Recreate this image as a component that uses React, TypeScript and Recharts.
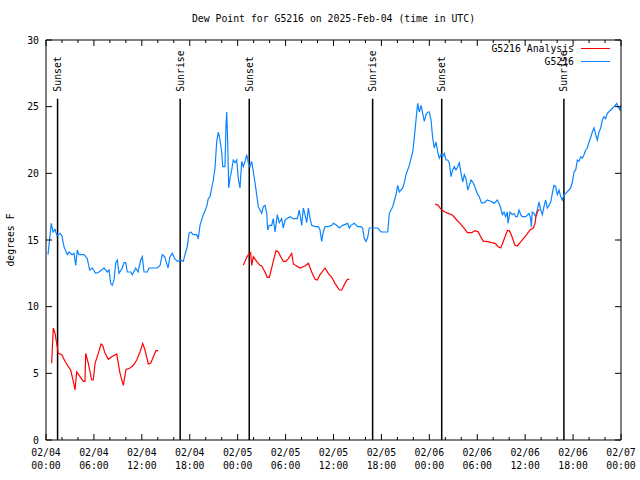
import { LineChart, Line, XAxis, YAxis, ReferenceLine } from 'recharts'

// hours since 2025-02-04 00:00 UTC, dew point in F
const stationObs: [number, number][] = [
  [0.25, 13.9], [0.45, 15.0], [0.66, 16.25], [0.88, 15.6], [1.13, 15.8], [1.38, 15.3], [1.75, 15.5],
  [2.0, 15.3], [2.25, 14.5], [2.67, 13.9], [2.88, 14.1], [3.26, 13.9], [3.51, 14.0], [3.72, 13.1],
  [3.92, 14.25], [4.13, 13.9], [4.76, 13.9], [5.17, 13.6], [5.47, 12.75], [5.8, 12.9], [6.22, 12.5],
  [6.64, 12.6], [7.26, 12.9], [7.68, 12.6], [7.89, 12.75], [8.1, 11.75], [8.3, 11.6], [8.52, 12.0],
  [8.73, 13.3], [8.93, 13.5], [9.14, 12.5], [9.55, 12.9], [9.77, 13.3], [9.98, 13.3], [10.18, 12.6],
  [10.61, 12.6], [10.81, 12.4], [11.23, 12.9], [11.52, 12.6], [11.86, 13.5], [12.06, 13.75], [12.27, 12.6],
  [12.68, 12.6], [12.9, 12.9], [13.31, 12.9], [13.94, 12.9], [14.28, 13.1], [14.56, 13.9], [14.86, 13.75],
  [15.19, 13.1], [15.28, 12.9], [15.53, 13.75], [15.82, 14.0], [16.12, 13.6], [16.44, 13.4], [16.87, 13.5],
  [17.19, 13.4], [17.49, 14.1], [17.69, 14.5], [17.91, 15.5], [18.12, 15.6], [18.44, 15.4], [18.87, 15.4],
  [19.07, 15.1], [19.28, 16.1], [19.7, 16.9], [20.12, 17.5], [20.32, 18.1], [20.54, 18.25], [20.75, 18.9],
  [20.95, 19.5], [21.16, 20.4], [21.38, 22.4], [21.58, 23.1], [21.79, 22.5], [22.0, 21.6], [22.13, 20.5],
  [22.41, 20.5], [22.54, 23.6], [22.63, 24.6], [22.75, 22.3], [22.88, 18.9], [23.04, 19.6], [23.25, 20.25],
  [23.45, 21.0], [23.67, 20.8], [23.88, 21.0], [24.08, 19.6], [24.29, 18.9], [24.51, 20.9], [24.71, 20.5],
  [24.92, 20.9], [25.13, 21.4], [25.33, 20.8], [25.54, 20.5], [25.75, 20.9], [25.96, 20.1], [26.17, 19.3],
  [26.38, 18.4], [26.58, 17.5], [26.8, 17.25], [27.01, 17.0], [27.21, 17.5], [27.42, 17.6], [27.64, 17.0],
  [27.76, 15.75], [27.96, 16.1], [28.26, 16.1], [28.46, 16.6], [28.68, 15.6], [28.96, 16.9], [29.21, 16.3],
  [29.51, 16.6], [29.71, 15.9], [29.93, 16.5], [30.14, 16.6], [30.55, 16.75], [30.97, 16.6], [31.47, 16.6],
  [31.72, 17.25], [32.02, 16.1], [32.22, 17.4], [32.43, 16.9], [32.65, 16.3], [32.85, 17.4], [33.06, 16.6],
  [33.27, 16.1], [33.68, 16.0], [34.1, 16.0], [34.31, 15.75], [34.52, 14.9], [34.72, 15.6], [34.94, 16.0],
  [35.35, 16.0], [35.78, 16.1], [35.98, 16.25], [36.4, 16.1], [36.73, 15.9], [37.15, 16.1], [37.78, 16.25],
  [37.98, 15.9], [38.19, 16.1], [38.6, 16.25], [39.03, 16.0], [39.44, 16.0], [39.65, 15.9], [39.86, 15.1],
  [40.07, 14.9], [40.28, 15.2], [40.48, 15.9], [40.91, 15.9], [41.54, 15.9], [41.95, 15.6], [42.36, 15.6],
  [42.79, 15.6], [42.99, 17.0], [43.41, 17.5], [43.83, 18.4], [44.04, 19.1], [44.24, 18.6], [44.67, 18.9],
  [44.87, 19.3], [45.08, 19.9], [45.49, 20.6], [45.92, 21.6], [46.12, 22.7], [46.33, 24.0], [46.54, 25.25],
  [46.74, 24.6], [46.96, 25.1], [47.17, 24.5], [47.37, 23.9], [47.58, 24.4], [47.8, 24.6], [48.0, 24.6],
  [48.21, 24.0], [48.42, 22.65], [48.62, 21.9], [48.84, 22.35], [49.05, 21.6], [49.25, 21.15], [49.46, 21.4],
  [49.67, 21.25], [49.88, 21.5], [50.09, 21.0], [50.3, 21.0], [50.5, 20.8], [50.71, 19.75], [50.92, 20.25],
  [51.13, 20.5], [51.34, 20.25], [51.55, 20.5], [51.75, 20.8], [51.97, 20.0], [52.18, 19.35], [52.38, 19.9],
  [52.59, 19.6], [52.81, 18.75], [53.0, 19.1], [53.22, 19.5], [53.43, 19.35], [53.63, 19.1], [53.84, 18.75],
  [54.06, 18.4], [54.26, 18.25], [54.47, 17.85], [54.68, 17.75], [55.01, 17.85], [55.26, 18.0], [55.88, 17.85],
  [56.1, 17.75], [56.51, 18.0], [56.72, 17.75], [56.94, 17.4], [57.14, 16.9], [57.35, 17.1], [57.56, 16.75],
  [57.76, 17.1], [57.85, 16.25], [58.1, 17.1], [58.39, 16.9], [58.6, 17.0], [58.82, 16.75], [59.02, 16.75],
  [59.23, 17.25], [59.44, 16.9], [59.64, 16.75], [60.07, 16.75], [60.48, 17.0], [60.69, 16.6], [60.77, 16.0],
  [60.89, 17.1], [61.1, 17.0], [61.32, 16.75], [61.52, 17.25], [61.73, 17.85], [61.95, 17.25], [62.15, 16.9],
  [62.36, 17.5], [62.57, 18.0], [62.77, 17.4], [62.99, 17.6], [63.2, 17.85], [63.4, 18.5], [63.61, 19.1],
  [63.82, 19.0], [64.03, 18.4], [64.24, 18.75], [64.45, 18.25], [64.65, 18.0], [64.86, 18.4], [65.08, 18.5],
  [65.49, 18.75], [65.7, 18.9], [65.91, 19.35], [66.12, 20.1], [66.33, 20.25], [66.53, 21.0], [66.74, 20.9],
  [66.95, 21.25], [67.16, 21.15], [67.37, 21.4], [67.58, 21.75], [67.78, 21.9], [67.99, 22.35], [68.21, 22.7],
  [68.41, 23.1], [68.62, 23.4], [68.83, 22.9], [69.03, 22.5], [69.25, 23.1], [69.46, 23.4], [69.66, 24.0],
  [69.87, 24.25], [70.08, 24.1], [70.29, 24.5], [70.71, 24.75], [71.13, 25.0], [71.46, 25.25], [71.62, 25.0],
  [71.87, 24.75], [71.96, 25.1],
]

// analysis runs, three separate pieces
const analysisDay1: [number, number][] = [
  [0.71, 5.75], [0.91, 8.4], [1.13, 8.0], [1.34, 7.25], [1.54, 6.5], [1.97, 6.4], [2.38, 5.9], [2.79, 5.5],
  [3.09, 5.25], [3.42, 4.4], [3.63, 3.75], [3.84, 5.1], [4.26, 4.75], [4.67, 4.4], [4.88, 4.4], [4.97, 6.5],
  [5.3, 5.75], [5.72, 4.5], [5.92, 4.5], [6.14, 5.75], [6.55, 6.5], [6.89, 7.2], [7.1, 7.1], [7.39, 6.5],
  [7.8, 6.05], [8.23, 6.25], [8.85, 6.45], [9.27, 5.0], [9.68, 4.1], [10.02, 5.3], [10.52, 5.4], [10.93, 5.6],
  [11.36, 6.0], [11.77, 6.6], [12.11, 7.25], [12.4, 6.75], [12.81, 5.7], [13.11, 5.75], [13.44, 6.25],
  [13.77, 6.7], [14.06, 6.7],
]
const analysisDay2: [number, number][] = [
  [24.71, 13.1], [24.92, 13.4], [25.13, 13.7], [25.33, 13.9], [25.63, 14.05], [25.76, 13.1], [25.96, 13.75],
  [26.38, 13.4], [26.8, 13.1], [27.01, 13.05], [27.42, 12.6], [27.71, 12.2], [27.96, 12.2], [28.46, 13.4],
  [28.8, 14.2], [29.09, 14.1], [29.39, 13.75], [29.71, 13.4], [30.05, 13.4], [30.34, 13.6], [30.77, 14.0],
  [30.97, 13.2], [31.39, 13.05], [31.81, 12.9], [32.43, 13.05], [32.85, 13.25], [33.27, 12.6], [33.68, 12.05],
  [33.97, 12.0], [34.31, 12.4], [34.94, 12.9], [35.35, 12.5], [35.78, 12.2], [36.19, 11.75], [36.73, 11.25],
  [37.03, 11.25], [37.44, 11.75], [37.73, 12.05], [37.98, 12.05],
]
const analysisDay3: [number, number][] = [
  [48.71, 17.7], [49.12, 17.6], [49.34, 17.4], [49.55, 17.25], [49.96, 17.1], [50.38, 17.0], [50.8, 16.9],
  [51.0, 16.8], [51.43, 16.5], [51.75, 16.3], [52.05, 16.1], [52.47, 15.8], [52.76, 15.55], [53.31, 15.55],
  [53.72, 15.7], [54.14, 15.6], [54.43, 15.25], [54.76, 14.9], [55.18, 14.9], [55.81, 14.8], [56.22, 14.75],
  [56.64, 14.5], [56.94, 14.4], [57.14, 14.7], [57.48, 15.25], [57.77, 15.7], [58.02, 15.7], [58.32, 15.3],
  [58.73, 14.6], [59.02, 14.55], [59.36, 14.8], [59.77, 15.1], [60.19, 15.4], [60.61, 15.75], [61.02, 15.9],
  [61.23, 16.25], [61.36, 16.8], [61.52, 17.1], [61.77, 17.3],
]

const sunEvents = [
  { t: 1.45, name: 'Sunset' },
  { t: 16.8, name: 'Sunrise' },
  { t: 25.45, name: 'Sunset' },
  { t: 40.9, name: 'Sunrise' },
  { t: 49.55, name: 'Sunset' },
  { t: 64.85, name: 'Sunrise' },
]
const sunLineTop = 25.6

const xTicks = [0, 2, 4, 6, 8, 10, 12, 14, 16, 18, 20, 22, 24, 26, 28, 30, 32, 34, 36, 38, 40, 42, 44, 46,
  48, 50, 52, 54, 56, 58, 60, 62, 64, 66, 68, 70, 72]
const yTicks = [0, 5, 10, 15, 20, 25, 30]

const legendItems = [
  { name: 'G5216 Analysis', color: '#ff0000' },
  { name: 'G5216', color: '#0a84ff' },
]

const mono = '"DejaVu Sans Mono", monospace'
const toRows = (pts: [number, number][]) => pts.map(([t, v]) => ({ t, v }))

const pad = (n: number) => (n < 10 ? '0' + n : '' + n)
const dayLabel = (h: number) => '02/' + pad(4 + Math.floor(h / 24))
const timeLabel = (h: number) => pad(h % 24) + ':00'

const BottomTick = (props: any) => {
  const { x, y, payload } = props
  const h = payload.value
  const major = h % 6 === 0
  return (
    <g>
      <line x1={x} y1={y} x2={x} y2={y - (major ? 6 : 3)} stroke="#000" />
      {major && (
        <text x={x} y={y} textAnchor="middle" fontFamily={mono} fontSize={9.8} fill="#000">
          <tspan x={x} dy={16}>{dayLabel(h)}</tspan>
          <tspan x={x} dy={13}>{timeLabel(h)}</tspan>
        </text>
      )}
    </g>
  )
}

const TopTick = (props: any) => {
  const { x, y, payload } = props
  const major = payload.value % 6 === 0
  return <line x1={x} y1={y} x2={x} y2={y + (major ? 6 : 3)} stroke="#000" />
}

const LeftTick = (props: any) => {
  const { x, y, payload } = props
  return (
    <g>
      <line x1={x} y1={y} x2={x + 6} y2={y} stroke="#000" />
      <text x={x - 7} y={y} textAnchor="end" dominantBaseline="central" fontFamily={mono} fontSize={9.8} fill="#000">
        {payload.value}
      </text>
    </g>
  )
}

const RightTick = (props: any) => {
  const { x, y } = props
  return <line x1={x} y1={y} x2={x - 6} y2={y} stroke="#000" />
}

const SunLabel = (name: string) => (props: any) => {
  const { viewBox } = props
  const x = viewBox.x
  const y = viewBox.y - 7
  return (
    <text x={x} y={y} transform={`rotate(-90 ${x} ${y})`} dominantBaseline="central" fontFamily={mono}
      fontSize={9.8} fill="#000">
      {name}
    </text>
  )
}

export default function App() {
  return (
    <div style={{ position: 'absolute', left: 0, top: 0, width: 640, height: 480, background: '#fff' }}>
      <div style={{ position: 'absolute', left: 0, top: 13, width: 667, textAlign: 'center',
        fontFamily: mono, fontSize: 9.8, color: '#000' }}>
        Dew Point for G5216 on 2025-Feb-04 (time in UTC)
      </div>
      <div style={{ position: 'absolute', left: 10, top: 240, transform: 'translate(-50%, -50%) rotate(-90deg)',
        fontFamily: mono, fontSize: 9.8, whiteSpace: 'nowrap', color: '#000' }}>
        degrees F
      </div>
      <div style={{ position: 'absolute', right: 30, top: 42, fontFamily: mono, fontSize: 9.8,
        lineHeight: '13px', color: '#000', zIndex: 2 }}>
        {legendItems.map((item) => (
          <div key={item.name} style={{ display: 'flex', alignItems: 'center', justifyContent: 'flex-end' }}>
            <span>{item.name}</span>
            <span style={{ display: 'inline-block', width: 29, height: 1, background: item.color,
              marginLeft: 7 }} />
          </div>
        ))}
      </div>
      <LineChart width={640} height={480} margin={{ top: 39, right: 18, bottom: 39, left: 45 }}>
        <XAxis xAxisId="bottom" dataKey="t" type="number" domain={[0, 72]} ticks={xTicks} interval={0}
          height={1} tickSize={0} tickMargin={0} tickLine={false} tick={BottomTick} stroke="#000"
          allowDataOverflow />
        <XAxis xAxisId="top" orientation="top" dataKey="t" type="number" domain={[0, 72]} ticks={xTicks}
          interval={0} height={1} tickSize={0} tickMargin={0} tickLine={false} tick={TopTick} stroke="#000"
          allowDataOverflow />
        <YAxis yAxisId="left" type="number" domain={[0, 30]} ticks={yTicks} interval={0} width={1}
          tickSize={0} tickMargin={0} tickLine={false} tick={LeftTick} stroke="#000" allowDataOverflow />
        <YAxis yAxisId="right" orientation="right" type="number" domain={[0, 30]} ticks={yTicks} interval={0}
          width={1} tickSize={0} tickMargin={0} tickLine={false} tick={RightTick} stroke="#000"
          allowDataOverflow />
        {sunEvents.map((s, i) => (
          <ReferenceLine key={i} xAxisId="bottom" yAxisId="left" stroke="#000" strokeWidth={1.5}
            segment={[{ x: s.t, y: 0 }, { x: s.t, y: sunLineTop }]} label={SunLabel(s.name)} />
        ))}
        <Line xAxisId="bottom" yAxisId="left" data={toRows(stationObs)} dataKey="v" stroke="#0a84ff"
          strokeWidth={1.2} dot={false} isAnimationActive={false} />
        {[analysisDay1, analysisDay2, analysisDay3].map((seg, i) => (
          <Line key={i} xAxisId="bottom" yAxisId="left" data={toRows(seg)} dataKey="v" stroke="#ff0000"
            strokeWidth={1.2} dot={false} isAnimationActive={false} />
        ))}
      </LineChart>
    </div>
  )
}
